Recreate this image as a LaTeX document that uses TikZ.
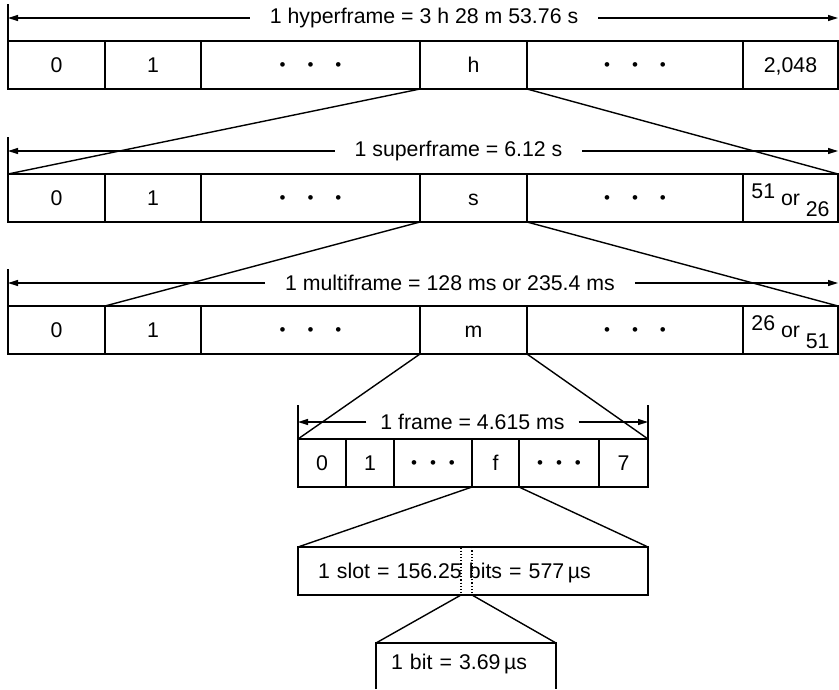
\documentclass[tikz,border=0pt]{standalone}
\usepackage{fontspec}
\setmainfont{Liberation Sans}
\usepackage{tikz}
\usetikzlibrary{arrows.meta,positioning}
\newcommand{\cellfont}{\fontsize{21.3}{25}\selectfont}
\newcommand{\threedots}[1]{\raisebox{2pt}{\fontsize{17}{17}\selectfont •\hspace{#1}•\hspace{#1}•}}
\tikzset{
  cell/.style={
    rectangle, draw, line width=1.6pt,
    minimum width=#1, minimum height=48pt,
    inner sep=0pt, outer sep=0pt,
    text height=15.3pt, text depth=0pt,
    font=\cellfont, anchor=west
  },
  cell/.default=96pt,
  textbox/.style={
    rectangle, line width=1.6pt,
    minimum height=#1, text width=310pt,
    inner xsep=20pt, inner ysep=0pt, outer sep=0pt,
    text height=15.3pt, text depth=0pt,
    font=\cellfont, align=left, anchor=north west
  },
  textbox/.default=48pt,
  bitmark/.style={
    rectangle, draw, dotted, line width=1.2pt,
    minimum width=11pt, minimum height=48pt,
    inner sep=0pt, outer sep=0pt
  },
  dimlabel/.style={
    font=\cellfont, inner xsep=20pt, inner ysep=0pt,
    outer sep=0pt
  },
  dimarrow/.style={
    -{Triangle[length=10pt, width=6pt]}, line width=1.4pt
  },
  tickline/.style={line width=1.4pt},
  zoomline/.style={line width=1.4pt},
  boxline/.style={line width=1.6pt},
}

\begin{document}
\begin{tikzpicture}[x=1pt, y=-1pt]
  \useasboundingbox (0,0) rectangle (839,689);

  % hyperframe
  \node[cell=97pt] (h0) at (8,65) {0};
  \node[cell=96pt, right=0pt of h0] (h1) {1};
  \node[cell=219pt, right=0pt of h1] (h2) {\threedots{22pt}};
  \node[cell=107pt, right=0pt of h2] (h) {h};
  \node[cell=216pt, right=0pt of h] (h4) {\threedots{22pt}};
  \node[cell=95pt, right=0pt of h4] (h5) {2,048};

  \node[dimlabel] (hyperlbl) at (424,18) {1 hyperframe = 3 h 28 m 53.76 s};
  \draw[dimarrow] (hyperlbl.west) -- (hyperlbl.west -| h0.west);
  \draw[dimarrow] (hyperlbl.east) -- (hyperlbl.east -| h5.east);
  \draw[tickline] (h0.north west) -- ++(0,-37);

  % superframe
  \node[cell=97pt] (s0) at (8,198) {0};
  \node[cell=96pt, right=0pt of s0] (s1) {1};
  \node[cell=219pt, right=0pt of s1] (s2) {\threedots{22pt}};
  \node[cell=107pt, right=0pt of s2] (s) {s};
  \node[cell=216pt, right=0pt of s] (s4) {\threedots{22pt}};
  \node[cell=95pt, right=0pt of s4] (s5) {\raisebox{7pt}{51} or \raisebox{-11pt}{26}};

  \node[dimlabel] (superlbl) at (458.5,151) {1 superframe = 6.12 s};
  \draw[dimarrow] (superlbl.west) -- (superlbl.west -| s0.west);
  \draw[dimarrow] (superlbl.east) -- (superlbl.east -| s5.east);
  \draw[tickline] (s0.north west) -- ++(0,-37);

  % multiframe
  \node[cell=97pt] (m0) at (8,330) {0};
  \node[cell=96pt, right=0pt of m0] (m1) {1};
  \node[cell=219pt, right=0pt of m1] (m2) {\threedots{22pt}};
  \node[cell=107pt, right=0pt of m2] (m) {m};
  \node[cell=216pt, right=0pt of m] (m4) {\threedots{22pt}};
  \node[cell=95pt, right=0pt of m4] (m5) {\raisebox{7pt}{26} or \raisebox{-11pt}{51}};

  \node[dimlabel] (multilbl) at (450,283) {1 multiframe = 128 ms or 235.4 ms};
  \draw[dimarrow] (multilbl.west) -- (multilbl.west -| m0.west);
  \draw[dimarrow] (multilbl.east) -- (multilbl.east -| m5.east);
  \draw[tickline] (m0.north west) -- ++(0,-37);

  % frame
  \node[cell=48pt] (f0) at (298,463) {0};
  \node[cell=48pt, right=0pt of f0] (f1) {1};
  \node[cell=78pt, right=0pt of f1] (f2) {\threedots{13pt}};
  \node[cell=47pt, right=0pt of f2] (f) {f};
  \node[cell=80pt, right=0pt of f] (f4) {\threedots{13pt}};
  \node[cell=49pt, right=0pt of f4] (f5) {7};

  \node[dimlabel, inner xsep=14pt] (framelbl) at (472.5,422) {1 frame = 4.615 ms};
  \draw[dimarrow] (framelbl.west) -- (framelbl.west -| f0.west);
  \draw[dimarrow] (framelbl.east) -- (framelbl.east -| f5.east);
  \draw[tickline] (f0.north west) -- ++(0,-34);
  \draw[tickline] (f5.north east) -- ++(0,-34);

  % slot and bit
  \node[bitmark] (bitmark) at (466.5,571) {};
  \node[textbox, draw] (slot) at (298,547) {1 slot = 156.25 bits = 577\,µs};
  \node[textbox=46pt, text width=150pt, inner xsep=15pt, text depth=8pt] (bit) at (376,643) {1 bit = 3.69\,µs};
  \draw[boxline] (bit.south west) -- (bit.north west) -- (bit.north east) -- (bit.south east);

  % expansion lines
  \draw[zoomline] (h.south west) -- (s0.north west);
  \draw[zoomline] (h.south east) -- (s5.north east);
  \draw[zoomline] (s.south west) -- (m1.north west);
  \draw[zoomline] (s.south east) -- (m5.north east);
  \draw[zoomline] (m.south west) -- (f0.north west);
  \draw[zoomline] (m.south east) -- (f5.north east);
  \draw[zoomline] (f.south west) -- (slot.north west);
  \draw[zoomline] (f.south east) -- (slot.north east);
  \draw[zoomline] (bitmark.south west) -- (bit.north west);
  \draw[zoomline] (bitmark.south east) -- (bit.north east);
\end{tikzpicture}
\end{document}
